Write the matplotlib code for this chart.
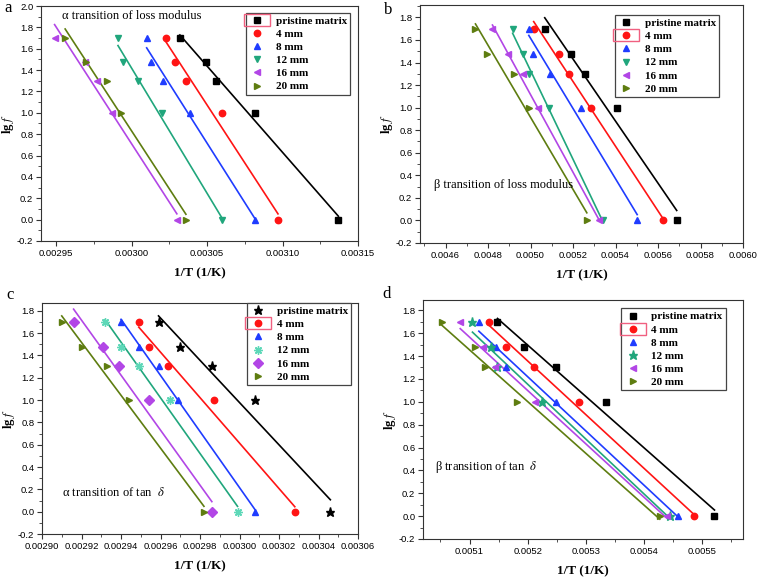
import numpy as np
import matplotlib.pyplot as plt
from matplotlib.ticker import MultipleLocator, FormatStrFormatter
from matplotlib.patches import Rectangle

plt.rcParams['font.family'] = ['Liberation Sans', 'DejaVu Sans']
plt.rcParams['mathtext.fontset'] = 'stix'

# lg f for 50, 30, 20, 10, 1 Hz
lgf = [1.699, 1.477, 1.301, 1.0, 0.0]
samples = ['pristine matrix', '4 mm', '8 mm', '12 mm', '16 mm', '20 mm']

# 1/T values (1/K), one row per sample
invT_a = [[0.003032, 0.003049, 0.003056, 0.003082, 0.003137],
          [0.003023, 0.003029, 0.003036, 0.003060, 0.003097],
          [0.003010, 0.003013, 0.003021, 0.003039, 0.003082],
          [0.002991, 0.002994, 0.003004, 0.003020, 0.003060],
          [0.002949, 0.002969, 0.002977, 0.002987, 0.003030],
          [0.002956, 0.002970, 0.002984, 0.002993, 0.003036]]
invT_b = [[0.005067, 0.005190, 0.005258, 0.005407, 0.005688],
          [0.005015, 0.005133, 0.005183, 0.005285, 0.005622],
          [0.004992, 0.005010, 0.005093, 0.005238, 0.005502],
          [0.004916, 0.004963, 0.004993, 0.005085, 0.005340],
          [0.004821, 0.004893, 0.004963, 0.005033, 0.005320],
          [0.004741, 0.004796, 0.004924, 0.004991, 0.005265]]
invT_c = [[0.002959, 0.002970, 0.002986, 0.003008, 0.003046],
          [0.002949, 0.002954, 0.002964, 0.002987, 0.003028],
          [0.002940, 0.002949, 0.002959, 0.002969, 0.003008],
          [0.002932, 0.002940, 0.002949, 0.002965, 0.002999],
          [0.002916, 0.002931, 0.002939, 0.002954, 0.002986],
          [0.002910, 0.002920, 0.002933, 0.002944, 0.002982]]
invT_d = [[0.005148, 0.005194, 0.005248, 0.005334, 0.005521],
          [0.005133, 0.005162, 0.005210, 0.005288, 0.005485],
          [0.005116, 0.005145, 0.005162, 0.005248, 0.005459],
          [0.005105, 0.005137, 0.005148, 0.005225, 0.005445],
          [0.005084, 0.005123, 0.005143, 0.005213, 0.005440],
          [0.005052, 0.005110, 0.005126, 0.005181, 0.005427]]

line_cols = ['#000000', '#ff1414', '#1f3cff', '#20a67c', '#b246e6', '#5e7d10']
mark_cols_c = ['#000000', '#ff1414', '#1f3cff', '#5ed8b8', '#b246e6', '#5e7d10']
mk_a = ['s', 'o', '^', 'v', '<', '>']
mk_c = ['*', 'o', '^', (8, 2, 0), 'D', '>']
mk_d = ['s', 'o', '^', '*', '<', '>']

W, H = 758, 577
fig = plt.figure(figsize=(W / 100, H / 100), dpi=100)

def box(l, t, r, b):
    return [l / W, 1 - b / H, (r - l) / W, (b - t) / H]

serif = 'Liberation Serif'

def panel(rect, data, markers, mcols, xlim, ylim, xmaj, xmin, xfmt,
          note, note_xy, leg_xy, hl):
    ax = fig.add_axes(rect)
    for i, xs in enumerate(data):
        xs = np.array(xs)
        p = np.polyfit(xs, lgf, 1)
        xx = np.array([xs.min(), xs.max()])
        ax.plot(xx, np.polyval(p, xx), color=line_cols[i], lw=1.2)
    for i, xs in enumerate(data):
        m = markers[i]
        ms = 6.5 if m == '*' else (6 if m == (8, 2, 0) else 4.6)
        ax.plot(xs, lgf, ls='none', marker=m, ms=ms, color=mcols[i],
                mec=mcols[i], mew=1.0, label=samples[i])
    ax.set_xlim(*xlim)
    ax.set_ylim(*ylim)
    ax.xaxis.set_major_locator(MultipleLocator(xmaj))
    ax.xaxis.set_minor_locator(MultipleLocator(xmin))
    ax.xaxis.set_major_formatter(FormatStrFormatter(xfmt))
    ax.yaxis.set_major_locator(MultipleLocator(0.2))
    ax.yaxis.set_minor_locator(MultipleLocator(0.1))
    ax.yaxis.set_major_formatter(FormatStrFormatter('%.1f'))
    ax.tick_params(which='both', direction='out', top=False, right=False,
                   labelsize=6.8, pad=2, color='#333333')
    ax.tick_params(which='major', length=3.5)
    ax.tick_params(which='minor', length=2)
    for s in ax.spines.values():
        s.set_linewidth(0.8)
        s.set_color('#333333')
    ax.set_xlabel('1/T (1/K)', family=serif, weight='bold', fontsize=9.5,
                  labelpad=7)
    ax.set_ylabel('lg $f$', family=serif, weight='bold', fontsize=9)
    ax.yaxis.set_label_coords(-25 / (rect[2] * W), 0.5)
    ax.text(note_xy[0], note_xy[1], note, transform=ax.transAxes,
            family=serif, fontsize=9, va='center', ha='left')
    leg = ax.legend(loc='upper right', bbox_to_anchor=leg_xy,
                    prop={'family': serif, 'weight': 'bold', 'size': 8},
                    frameon=True, fancybox=False, framealpha=1,
                    edgecolor='#444444', borderaxespad=0, borderpad=0.3,
                    labelspacing=0.3, handlelength=1.4, handletextpad=1.0)
    leg.get_frame().set_linewidth(0.9)
    fig.canvas.draw()
    bb = leg.get_lines()[hl].get_window_extent(fig.canvas.get_renderer())
    cx, cy = (bb.x0 + bb.x1) / 2, (bb.y0 + bb.y1) / 2
    inv = fig.transFigure.inverted()
    (x0, y0) = inv.transform((cx - 13, cy - 6))
    (x1, y1) = inv.transform((cx + 13, cy + 6))
    fig.add_artist(Rectangle((x0, y0), x1 - x0, y1 - y0, fill=False,
                             ec='#f06080', lw=1.0, transform=fig.transFigure))
    return ax

panel(box(41, 6, 358, 241), invT_a, mk_a, line_cols,
      (0.00294, 0.00315), (-0.2, 2.0), 0.00005, 0.000025, '%.5f',
      'α transition of loss modulus', (0.065, 0.958),
      (0.976, 0.971), 0)
panel(box(420, 5, 743, 243), invT_b, mk_a, line_cols,
      (0.00448, 0.0060), (-0.2, 1.91), 0.0002, 0.0001, '%.4f',
      'β transition of loss modulus', (0.043, 0.245),
      (0.926, 0.958), 1)
panel(box(42, 303, 358, 534), invT_c, mk_c, mark_cols_c,
      (0.00290, 0.00306), (-0.2, 1.87), 0.00002, 0.00001, '%.5f',
      'α transition of tan  $\\delta$', (0.063, 0.181),
      (0.979, 1.0), 1)
panel(box(423, 300, 743, 539), invT_d, mk_d, line_cols,
      (0.00502, 0.00557), (-0.2, 1.89), 0.0001, 0.00005, '%.4f',
      'β transition of tan  $\\delta$', (0.037, 0.30),
      (0.947, 0.965), 1)

for lab, px, py in [('a', 8, 8), ('b', 388, 10), ('c', 10, 295), ('d', 387, 294)]:
    fig.text(px / W, 1 - py / H, lab, family=serif, fontsize=12,
             ha='center', va='center')

fig.savefig('out.png', dpi=100)
